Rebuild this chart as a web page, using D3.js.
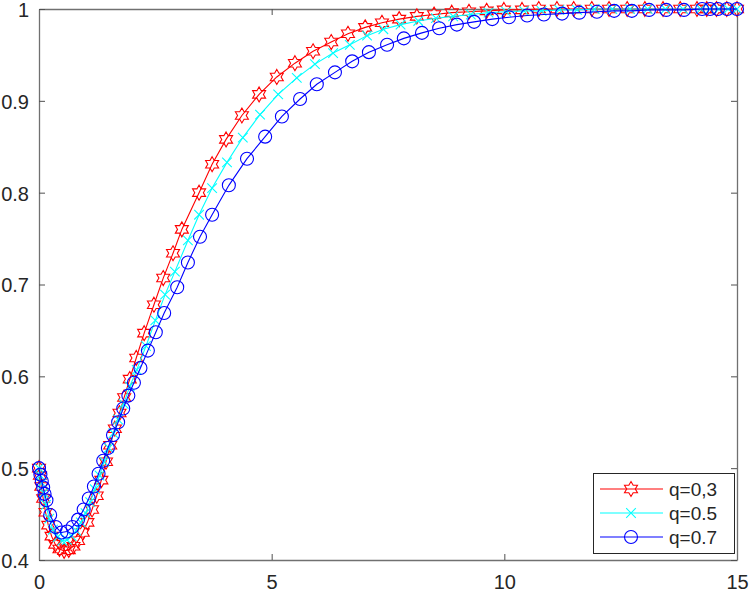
<!DOCTYPE html>
<html>
<head>
<meta charset="utf-8">
<script src="https://cdn.jsdelivr.net/npm/d3@7"></script>
<style>
html,body{margin:0;padding:0;background:#fff;}
svg{display:block;}
text{font-family:"Liberation Sans",Arial,sans-serif;}
</style>
</head>
<body>
<svg id="chart" width="750" height="593"></svg>
<script>
// ---- data ----
const tRed = [0,0.02,0.05,0.09,0.14,0.20,0.27,0.35,0.44,0.54,0.64,0.74,0.84,0.94,1.04,1.14,1.24,1.34,1.44,1.53,1.63,1.73,1.83,1.95,2.09,2.26,2.47,2.67,2.88,3.07,3.44,3.72,4.02,4.36,4.73,5.11,5.50,5.89,6.28,6.64,7.01,7.37,7.74,8.12,8.49,8.87,9.24,9.62,9.99,10.38,10.74,11.13,11.49,11.88,12.25,12.64,13.02,13.41,13.78,14.14,14.35,14.56,14.78,15];
const yRed = [0.500,0.492,0.480,0.467,0.452,0.438,0.426,0.417,0.412,0.410,0.411,0.415,0.421,0.430,0.441,0.455,0.470,0.487,0.507,0.525,0.543,0.560,0.577,0.597,0.620,0.647,0.678,0.707,0.734,0.760,0.800,0.831,0.858,0.884,0.907,0.926,0.941,0.954,0.964,0.973,0.980,0.985,0.989,0.992,0.994,0.996,0.997,0.998,0.999,0.999,1.000,1.000,1.000,1.000,1.000,1.000,1.000,1.000,1.000,1.000,1.000,1.000,1.000,1.000];

const tCyan = [0,0.03,0.06,0.10,0.15,0.22,0.30,0.40,0.50,0.60,0.70,0.80,0.90,1.00,1.10,1.20,1.30,1.40,1.50,1.60,1.70,1.82,1.95,2.10,2.30,2.50,2.71,2.92,3.20,3.44,3.72,4.04,4.38,4.75,5.14,5.54,5.93,6.32,6.68,7.05,7.40,7.77,8.15,8.53,8.90,9.28,9.66,10.04,10.42,10.80,11.18,11.56,11.94,12.32,12.70,13.08,13.46,13.84,14.22,14.42,14.61,14.81,15];
const yCyan = [0.500,0.492,0.484,0.473,0.460,0.445,0.433,0.425,0.421,0.422,0.426,0.432,0.441,0.451,0.463,0.477,0.492,0.507,0.522,0.538,0.553,0.570,0.589,0.607,0.633,0.661,0.689,0.714,0.748,0.776,0.805,0.833,0.860,0.885,0.907,0.925,0.940,0.952,0.961,0.971,0.978,0.983,0.987,0.990,0.992,0.994,0.996,0.997,0.998,0.998,0.999,0.999,1.000,1.000,1.000,1.000,1.000,1.000,1.000,1.000,1.000,1.000,1.000];

const tBlue = [0,0.03,0.06,0.09,0.12,0.16,0.24,0.36,0.48,0.60,0.72,0.84,0.96,1.07,1.18,1.28,1.38,1.48,1.59,1.70,1.81,1.92,2.04,2.18,2.34,2.51,2.69,2.97,3.20,3.46,3.72,4.08,4.47,4.86,5.22,5.61,5.97,6.36,6.73,7.09,7.48,7.84,8.23,8.60,8.98,9.35,9.74,10.10,10.49,10.85,11.24,11.61,11.99,12.36,12.74,13.11,13.48,13.86,14.25,14.42,14.59,14.79,15];
const yBlue = [0.500,0.493,0.486,0.479,0.472,0.465,0.449,0.436,0.430,0.431,0.436,0.444,0.455,0.467,0.480,0.494,0.508,0.522,0.536,0.550,0.565,0.579,0.593,0.609,0.628,0.648,0.669,0.697,0.724,0.752,0.776,0.808,0.837,0.861,0.883,0.902,0.918,0.931,0.943,0.953,0.961,0.968,0.974,0.979,0.983,0.986,0.989,0.991,0.993,0.994,0.995,0.996,0.997,0.998,0.998,0.999,0.999,0.999,1.000,1.000,1.000,1.000,1.000];

const xTicks = [0,5,10,15];
const yTicks = [0.4,0.5,0.6,0.7,0.8,0.9,1];
const seriesNames = ["q=0,3","q=0.5","q=0.7"];
const seriesColors = ["#ff0000","#00ffff","#0000ff"];
const seriesMarkers = ["hexagram","x","circle"];

// ---- layout ----
const L = 39, R = 737, T = 9, B = 560;
const svg = d3.select("#chart");
const x = d3.scaleLinear().domain([0,15]).range([L,R]);
const y = d3.scaleLinear().domain([0.4,1]).range([B,T]);
const axisColor = "#262626";

svg.append("rect").attr("x",L).attr("y",T).attr("width",R-L).attr("height",B-T).attr("fill","#fff");

const gx = svg.append("g").attr("transform",`translate(0,${B})`)
  .call(d3.axisBottom(x).tickValues(xTicks).tickSizeInner(-6).tickSizeOuter(0).tickPadding(15).tickFormat(d3.format("d")));
const gxTop = svg.append("g").attr("transform",`translate(0,${T})`)
  .call(d3.axisTop(x).tickValues(xTicks).tickSizeInner(-6).tickSizeOuter(0).tickFormat(""));
const gy = svg.append("g").attr("transform",`translate(${L},0)`)
  .call(d3.axisLeft(y).tickValues(yTicks).tickSizeInner(-6).tickSizeOuter(0).tickPadding(10).tickFormat(d => d===1 ? "1" : d3.format(".1f")(d)));
const gyR = svg.append("g").attr("transform",`translate(${R},0)`)
  .call(d3.axisRight(y).tickValues(yTicks).tickSizeInner(-6).tickSizeOuter(0).tickFormat(""));

[gx,gxTop,gy,gyR].forEach(g=>{
  g.select(".domain").attr("stroke","#707070").attr("stroke-width",1.3);
  g.selectAll(".tick line").attr("stroke","#505050").attr("stroke-width",1);
  g.selectAll(".tick text").attr("fill",axisColor).style("font-size","20px").style("font-family",'"Liberation Sans",Arial,sans-serif');
});
gy.selectAll(".tick text").attr("dy","0.37em");

function hexagramPath(r){
  const ri = r/Math.sqrt(3);
  const pts = [];
  for(let i=0;i<12;i++){
    const a = -Math.PI/2 + i*Math.PI/6;
    const rr = (i%2===0) ? r : ri;
    pts.push([rr*Math.cos(a), rr*Math.sin(a)]);
  }
  return "M" + pts.map(p=>p[0].toFixed(2)+","+p[1].toFixed(2)).join("L") + "Z";
}
function drawMarker(g, type, color){
  if(type==="hexagram"){
    g.append("path").attr("d",hexagramPath(7.5)).attr("fill","none").attr("stroke",color).attr("stroke-width",1.1);
  } else if(type==="x"){
    const s=4.8;
    g.append("path").attr("d",`M${-s},${-s}L${s},${s}M${-s},${s}L${s},${-s}`).attr("fill","none").attr("stroke",color).attr("stroke-width",1.1);
  } else {
    g.append("circle").attr("r",6.5).attr("fill","none").attr("stroke",color).attr("stroke-width",1.1);
  }
}

const series = [
  {t:tRed, v:yRed},
  {t:tCyan, v:yCyan},
  {t:tBlue, v:yBlue}
];
const line = d3.line().x(d=>x(d[0])).y(d=>y(d[1]));

series.forEach((s,i)=>{
  const pts = s.t.map((t,j)=>[t,s.v[j]]);
  const g = svg.append("g");
  g.append("path").datum(pts).attr("d",line).attr("fill","none").attr("stroke",seriesColors[i]).attr("stroke-width",1.1);
  pts.forEach(p=>{
    const m = g.append("g").attr("transform",`translate(${x(p[0])},${y(p[1])})`);
    drawMarker(m, seriesMarkers[i], seriesColors[i]);
  });
});

const lg = svg.append("g");
lg.append("rect").attr("x",593.5).attr("y",473.5).attr("width",141).attr("height",80)
  .attr("fill","#fff").attr("stroke",axisColor).attr("stroke-width",1);
const rowY = [489,513,537];
seriesNames.forEach((n,i)=>{
  lg.append("line").attr("x1",600).attr("x2",663).attr("y1",rowY[i]).attr("y2",rowY[i]).attr("stroke",seriesColors[i]).attr("stroke-width",1.1);
  const m = lg.append("g").attr("transform",`translate(631,${rowY[i]})`);
  drawMarker(m, seriesMarkers[i], seriesColors[i]);
  lg.append("text").attr("x",669).attr("y",rowY[i]).attr("dy","0.35em").attr("fill",axisColor)
    .style("font-size","19px").text(n);
});
</script>
</body>
</html>
